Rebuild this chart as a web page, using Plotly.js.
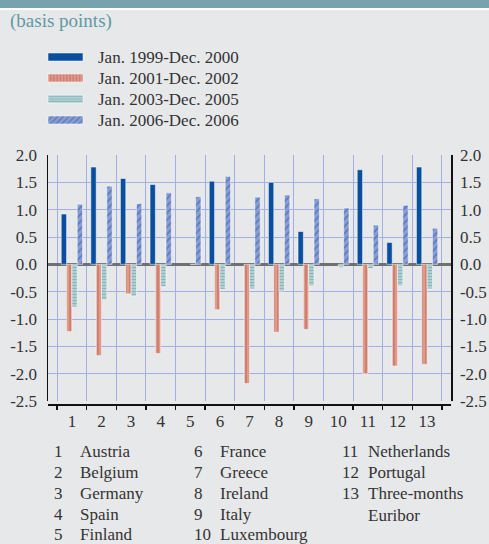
<!DOCTYPE html>
<html>
<head>
<meta charset="utf-8">
<script src="https://cdn.plot.ly/plotly-3.0.1.min.js"></script>
<style>
html,body{margin:0;padding:0;background:#e7e8ea;}
#chart{width:489px;height:544px;}
</style>
</head>
<body>
<div id="chart"></div>
<script>
// ---- data ----
var categories = ['1','2','3','4','5','6','7','8','9','10','11','12','13'];
var countryNames = ['Austria','Belgium','Germany','Spain','Finland','France','Greece','Ireland','Italy','Luxembourg','Netherlands','Portugal','Three-months<br>Euribor'];
var seriesNames = ['Jan. 1999-Dec. 2000','Jan. 2001-Dec. 2002','Jan. 2003-Dec. 2005','Jan. 2006-Dec. 2006'];
var period1999_2000 = [0.92, 1.78, 1.57, 1.46, null, 1.52, null, 1.50, 0.60, null, 1.73, 0.40, 1.78];
var period2001_2002 = [-1.23, -1.67, -0.54, -1.63, null, -0.83, -2.18, -1.24, -1.19, null, -2.00, -1.86, -1.83];
var period2003_2005 = [-0.78, -0.65, -0.58, -0.41, 0.0, -0.46, -0.45, -0.49, -0.39, -0.06, -0.08, -0.39, -0.45];
var period2006_2006 = [1.10, 1.43, 1.11, 1.31, 1.24, 1.61, 1.23, 1.27, 1.20, 1.03, 0.72, 1.08, 0.66];
var yTickVals = [-2.5, -2.0, -1.5, -1.0, -0.5, 0.0, 0.5, 1.0, 1.5, 2.0];
var yTickText = ['-2.5','-2.0','-1.5','-1.0','-0.5','0.0','0.5','1.0','1.5','2.0'];

// ---- style ----
var FONT = 'Liberation Serif, Times New Roman, serif';
var TXT = '#333333';
var BG = '#e7e8ea';
var GRID = '#a3afe0';

var lineW = {color:'#ffffff', width:0.5};
var traces = [
  {type:'bar', name:seriesNames[0], x:categories, y:period1999_2000,
   marker:{color:'#0a4f9e', line:lineW}},
  {type:'bar', name:seriesNames[1], x:categories, y:period2001_2002,
   marker:{color:'#e3a596', line:lineW, pattern:{shape:'|', fgcolor:'#bd5c4a', bgcolor:'#e3a596', size:4, solidity:0.65, fillmode:'overlay'}}},
  {type:'bar', name:seriesNames[2], x:categories, y:period2003_2005,
   marker:{color:'#c6dfe1', line:lineW, pattern:{shape:'-', fgcolor:'#4a8e95', bgcolor:'#c6dfe1', size:3, solidity:0.6, fillmode:'overlay'}}},
  {type:'bar', name:seriesNames[3], x:categories, y:period2006_2006,
   marker:{color:'#8a9dd2', line:lineW, pattern:{shape:'/', fgcolor:'#2454a4', bgcolor:'#8a9dd2', size:5, solidity:0.3, fillmode:'overlay'}}},
  {type:'scatter', mode:'markers', x:categories, y:period2006_2006.map(function(){return null;}),
   yaxis:'y2', showlegend:false, hoverinfo:'skip'}
];

// page geometry helpers (margins: l=48, r=38, t=155, b=140)
var L = 48, PW = 403, T = 155, PB = 404, PH = PB - T;
function px2x(px){ return (px - L) / PW; }
function py2y(py){ return (PB - py) / PH; }

var annotations = [];
annotations.push({xref:'paper', yref:'paper', x:px2x(8), y:py2y(21), xanchor:'left', yanchor:'middle',
  text:'(basis points)', showarrow:false, font:{family:FONT, size:19, color:'#5f9aa4'}});

var numCols = [52, 192, 340];
var nameCols = [78, 218, 366];
var rowY = [451, 472, 493, 514, 534];
for (var i = 0; i < categories.length; i++) {
  var c = Math.floor(i / 5), r = i % 5;
  annotations.push({xref:'paper', yref:'paper', x:px2x(numCols[c]), y:py2y(rowY[r]-11), xanchor:'left', yanchor:'top',
    text:categories[i], showarrow:false, align:'left', font:{family:FONT, size:17, color:TXT}});
  annotations.push({xref:'paper', yref:'paper', x:px2x(nameCols[c]), y:py2y(rowY[r]-11), xanchor:'left', yanchor:'top',
    text:countryNames[i], showarrow:false, align:'left', font:{family:FONT, size:17, color:TXT}});
}

var shapes = [
  {type:'rect', xref:'paper', yref:'paper', x0:px2x(0), x1:px2x(489), y0:py2y(8), y1:py2y(-2), fillcolor:'#77a2ae', line:{width:0}, layer:'below'},
  {type:'rect', xref:'paper', yref:'paper', x0:px2x(0), x1:px2x(489), y0:py2y(10), y1:py2y(8), fillcolor:'#ffffff', line:{width:0}, layer:'below'}
];

var layout = {
  width:489, height:544,
  margin:{l:L, r:489-L-PW, t:T, b:544-PB, pad:0},
  paper_bgcolor:BG, plot_bgcolor:BG,
  font:{family:FONT, size:17, color:TXT},
  barmode:'group', bargap:0.28, bargroupgap:0,
  showlegend:true,
  legend:{x:px2x(50), y:py2y(44), xanchor:'left', yanchor:'top', bgcolor:'rgba(0,0,0,0)', borderwidth:0,
          font:{family:FONT, size:17, color:TXT}, traceorder:'normal', itemclick:false},
  xaxis:{type:'category', anchor:'free', position:0, tickson:'boundaries', ticks:'outside', ticklen:4, tickwidth:1.5, tickcolor:'#111',
         showline:true, linecolor:'#111', linewidth:1.5, showgrid:true, gridcolor:GRID, gridwidth:1,
         tickfont:{family:FONT, size:17, color:TXT}, fixedrange:true, ticklabelstandoff:1},
  yaxis:{domain:[3/PH, 1], range:[-2.5, 2.0], tickvals:yTickVals, ticktext:yTickText, ticks:'outside', ticklen:6, tickcolor:'rgba(0,0,0,0)',
         showline:true, linecolor:'#111', linewidth:1.5, showgrid:true, gridcolor:GRID, gridwidth:1,
         zeroline:true, zerolinecolor:'#707070', zerolinewidth:2.5,
         tickfont:{family:FONT, size:17, color:TXT}, fixedrange:true},
  yaxis2:{overlaying:'y', side:'right', range:[-2.5, 2.0], tickvals:yTickVals, ticktext:yTickText, ticks:'outside', ticklen:4, tickcolor:'rgba(0,0,0,0)',
          showline:true, linecolor:'#111', linewidth:1.5, showgrid:false, zeroline:false,
          tickfont:{family:FONT, size:17, color:TXT}, fixedrange:true},
  annotations:annotations,
  shapes:shapes
};

var gd = document.getElementById('chart');
Plotly.newPlot(gd, traces, layout, {staticPlot:true, displayModeBar:false}).then(function(){
  // drop legend clipping so repositioned items stay whole
  var clipped = gd.querySelectorAll('.legend [clip-path]');
  for (var q = 0; q < clipped.length; q++) clipped[q].removeAttribute('clip-path');
  // reshape legend swatches to wide flat bars and set row spacing
  var items = gd.querySelectorAll('.legend .traces');
  for (var k = 0; k < items.length; k++) {
    var it = items[k];
    var txt = it.querySelector('text.legendtext');
    if (!txt) continue;
    var targetY = 57 + 21 * k;
    var tr = txt.getBoundingClientRect();
    var dx = 98 - tr.left, dy = targetY - (tr.top + tr.height / 2);
    var m = /translate\(([-\d.e]+)[ ,]+([-\d.e]+)\)/.exec(it.getAttribute('transform') || '');
    var ax = m ? parseFloat(m[1]) : 0, ay = m ? parseFloat(m[2]) : 0;
    it.setAttribute('transform', 'translate(' + (ax + dx) + ',' + (ay + dy) + ')');
    var p = it.querySelector('.legendpoints path');
    if (p) {
      var pr = p.getBoundingClientRect();
      var cx = pr.left + pr.width / 2, cy = pr.top + pr.height / 2;
      var x1 = 48 - cx, x2 = 83 - cx, y1 = targetY - 4 - cy, y2 = targetY + 4 - cy;
      p.setAttribute('d', 'M' + x2 + ',' + y2 + 'H' + x1 + 'V' + y1 + 'H' + x2 + 'Z');
    }
  }
  var bg = gd.querySelector('.legend .bg');
  if (bg) bg.style.display = 'none';
});
</script>
</body>
</html>
